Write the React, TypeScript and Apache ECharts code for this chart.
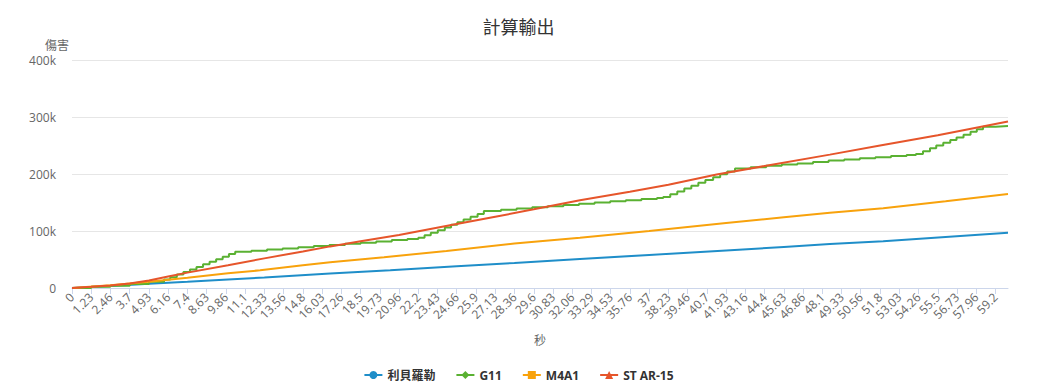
import React, { useEffect, useRef } from "react";
import * as echarts from "echarts";

const TITLE = "計算輸出";
const Y_NAME = "傷害";
const X_NAME = "秒";
const SERIES_NAMES = ["利貝羅勒", "G11", "M4A1", "ST AR-15"];
const COLORS = ["#1f8ec9", "#5ab132", "#f8a20c", "#e6552b"];
const SYMBOLS = ["circle", "diamond", "rect", "triangle"];

const X_TICK_LABELS = [
  "0", "1.23", "2.46", "3.7", "4.93", "6.16", "7.4", "8.63", "9.86", "11.1",
  "12.33", "13.56", "14.8", "16.03", "17.26", "18.5", "19.73", "20.96", "22.2",
  "23.43", "24.66", "25.9", "27.13", "28.36", "29.6", "30.83", "32.06", "33.29",
  "34.53", "35.76", "37", "38.23", "39.46", "40.7", "41.93", "43.16", "44.4",
  "45.63", "46.86", "48.1", "49.33", "50.56", "51.8", "53.03", "54.26", "55.5",
  "56.73", "57.96", "59.2",
];

// [seconds, damage]
const LIBEROL: [number, number][] = [
  [0, 0], [2.46, 3500], [4.93, 7500], [7.4, 11000], [10, 15000], [12.33, 18500],
  [16.55, 25400], [20.4, 31000], [24.66, 38000], [28.36, 44000], [32.56, 51000],
  [37, 58000], [41.93, 66000], [45.63, 72000], [48.58, 77000], [52, 82000],
  [56, 89500], [60, 97000],
];

const M4A1: [number, number][] = [
  [0, 0], [2.46, 5000], [4.93, 11000], [7.4, 18000], [10, 26000], [12.06, 31000],
  [14.8, 40000], [16.55, 45300], [20, 54000], [24, 65000], [28.36, 78000],
  [32.56, 88000], [37, 100000], [41.93, 114000], [45.63, 124000], [48.58, 132000],
  [52, 140000], [56, 152000], [60, 165000],
];

const STAR15: [number, number][] = [
  [0, 0], [1.23, 2000], [2.46, 4500], [3.7, 8000], [4.93, 13000], [6.16, 20000],
  [7.4, 27000], [10, 40000], [12.33, 52000], [14.8, 64000], [16.55, 73000],
  [18.5, 82000], [20.96, 93000], [24.23, 110000], [27.13, 125000], [29.6, 138000],
  [32.56, 154000], [35.76, 169000], [38.23, 181000], [41.32, 199000], [44.4, 214000],
  [48.58, 234000], [51.8, 250000], [55.5, 268000], [60, 292000],
];

const G11: [number, number][] = [
  [0, 0], [1.23, 2000], [2.46, 4000], [3.7, 7000], [4.93, 11000], [5.9, 15000],
  [6.3, 19000], [6.72, 23500], [7.14, 28000], [7.56, 32500], [7.98, 37000],
  [8.4, 41500], [8.82, 46000], [9.24, 50500], [9.66, 55000], [10.06, 59500],
  [10.46, 63500],
  [11.5, 65500], [12.5, 67500], [13.5, 69500], [14.5, 71500], [15.5, 73500],
  [16.5, 75500], [17.5, 77500], [18.5, 79500], [19.5, 81500], [20.5, 84000],
  [21.5, 86000], [22.2, 88000],
  [22.6, 92500], [23.0, 97000], [23.45, 101500], [23.9, 106000], [24.3, 111000],
  [24.7, 115500], [25.1, 120000], [25.55, 125000], [26.0, 130000], [26.4, 135000],
  [27.5, 137500], [28.5, 139500], [29.5, 141500], [30.5, 143500], [31.5, 145500],
  [32.5, 148000], [33.5, 150000], [34.5, 152000], [35.5, 154000], [36.5, 156000],
  [37.5, 158000], [37.9, 159500],
  [38.35, 164500], [38.8, 169500], [39.25, 174500], [39.7, 179500], [40.15, 184500],
  [40.6, 189500], [41.1, 194500], [41.55, 199500], [42.0, 204500], [42.5, 209500],
  [43.5, 212000], [44.5, 214500], [45.5, 216500], [46.5, 218500], [47.5, 221000],
  [48.5, 223500], [49.5, 225500], [50.5, 227500], [51.5, 229500], [52.5, 231500],
  [53.5, 233500], [54.1, 235000],
  [54.55, 240000], [55.0, 245000], [55.4, 250000], [55.85, 255000], [56.3, 259500],
  [56.7, 264000], [57.15, 269000], [57.6, 274000], [58.0, 278500], [58.4, 283000],
  [59.2, 284000], [60, 285000],
];

const SERIES_DATA = [LIBEROL, G11, M4A1, STAR15];
const STEPPED = [false, true, false, false];

const X_MAX = 60;
const Y_MAX = 400000;
const Y_INTERVAL = 100000;

export default function App() {
  const ref = useRef<HTMLDivElement>(null);
  useEffect(() => {
    if (!ref.current) return;
    const chart = echarts.init(ref.current, undefined, { renderer: "svg" });
    const tickValues = X_TICK_LABELS.map((s) => Number(s));
    const font = "'Open Sans', 'Noto Sans CJK TC', sans-serif";
    chart.setOption({
      animation: false,
      backgroundColor: "#ffffff",
      title: {
        text: TITLE,
        left: "center",
        top: 12,
        textStyle: {
          fontFamily: "'Noto Sans CJK TC', sans-serif",
          fontSize: 18,
          fontWeight: "normal",
          color: "#333333",
        },
      },
      legend: {
        bottom: 4,
        left: "center",
        itemWidth: 18,
        itemHeight: 10,
        itemGap: 20,
        data: SERIES_NAMES,
        textStyle: {
          fontFamily: "'Open Sans', 'Noto Sans CJK TC', sans-serif",
          fontSize: 12,
          fontWeight: "bold",
          color: "#333333",
        },
      },
      grid: { left: 72, right: 29, top: 60, bottom: 102, containLabel: false },
      xAxis: {
        type: "value",
        min: 0,
        max: X_MAX,
        name: X_NAME,
        nameLocation: "middle",
        nameGap: 46,
        nameTextStyle: { fontFamily: font, fontSize: 12, color: "#666666" },
        axisLine: { show: true, lineStyle: { color: "#ccd6eb", width: 1 } },
        axisTick: {
          show: true,
          customValues: tickValues,
          length: 6,
          lineStyle: { color: "#ccd6eb" },
        },
        splitLine: { show: false },
        axisLabel: {
          customValues: tickValues,
          rotate: 45,
          margin: 7,
          fontFamily: font,
          fontSize: 12,
          color: "#666666",
          formatter: (v: number) => {
            const i = tickValues.findIndex((x) => Math.abs(x - v) < 1e-6);
            return i >= 0 ? X_TICK_LABELS[i] : "";
          },
        },
      },
      yAxis: {
        type: "value",
        min: 0,
        max: Y_MAX,
        interval: Y_INTERVAL,
        name: Y_NAME,
        nameLocation: "end",
        nameGap: 10,
        nameTextStyle: {
          fontFamily: "'Noto Sans CJK TC', sans-serif",
          fontSize: 12,
          color: "#666666",
          align: "right",
          padding: [0, 3, 0, 0],
        },
        axisLine: { show: false },
        axisTick: { show: false },
        splitLine: { lineStyle: { color: "#e6e6e6", width: 1 } },
        axisLabel: {
          margin: 16,
          fontFamily: font,
          fontSize: 12,
          color: "#666666",
          formatter: (v: number) => (v === 0 ? "0" : `${v / 1000}k`),
        },
      },
      series: SERIES_NAMES.map((name, i) => ({
        name,
        type: "line",
        data: SERIES_DATA[i],
        step: STEPPED[i] ? "end" : false,
        symbol: SYMBOLS[i],
        showSymbol: false,
        smooth: false,
        lineStyle: { width: 2, color: COLORS[i] },
        itemStyle: { color: COLORS[i] },
        color: COLORS[i],
        z: 2 + i,
      })),
    });
    return () => chart.dispose();
  }, []);
  return (
    <div
      ref={ref}
      style={{ position: "fixed", left: 0, top: 0, width: 1037, height: 390 }}
    />
  );
}
